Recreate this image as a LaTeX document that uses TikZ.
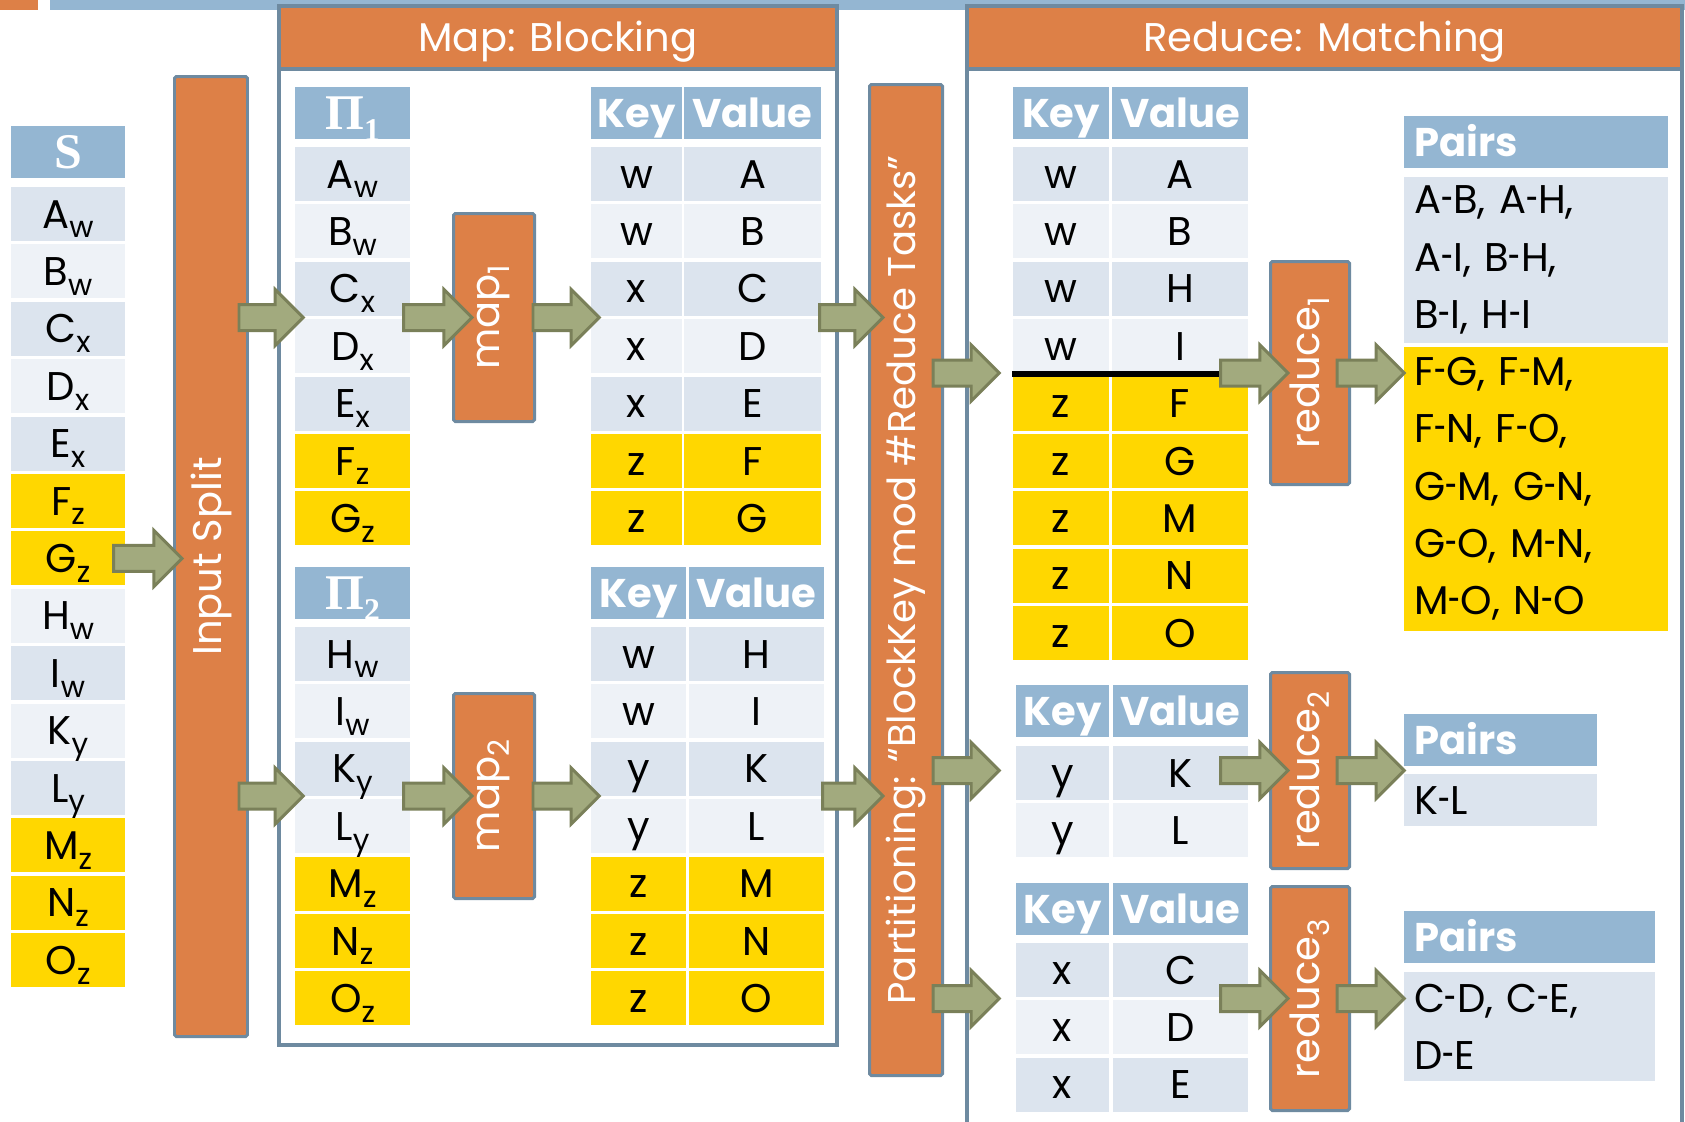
\documentclass[tikz,border=0pt]{standalone}
\usepackage{fontspec}
\setmainfont{Poppins}
\newfontfamily\serifhd{Liberation Serif}
\usetikzlibrary{calc}

\definecolor{taskorange}{HTML}{DD8047}
\definecolor{slate}{HTML}{6E8AA0}
\definecolor{hdblue}{HTML}{94B6D2}
\definecolor{rowdark}{HTML}{DCE4EE}
\definecolor{rowlight}{HTML}{EEF2F7}
\definecolor{rowyel}{HTML}{FFD700}
\definecolor{arrowfill}{HTML}{A2AA7E}
\definecolor{arrowedge}{HTML}{7A8059}

\newcommand\sbx[1]{\raisebox{-2.8pt}{\fontsize{8.4}{9}\selectfont #1}}
\newcommand\hy{\scalebox{0.55}[1]{-}}

\tikzset{
  cell/.style={inner sep=0pt, minimum height=5.4mm, text height=8pt, text depth=0pt},
  hdcell/.style={cell, minimum height=5.2mm, fill=hdblue, text=white, font=\bfseries},
  greekhd/.style={hdcell, font=\serifhd\bfseries\fontsize{14.2}{16}\selectfont, text height=9.4pt},
  pairbox/.style={inner sep=0pt, align=left},
  taskbox/.style={draw=slate, line width=0.85pt, fill=taskorange, text=white, inner sep=0pt, rounded corners=0.5pt},
  framebox/.style={draw=slate, line width=1.1pt, fill=white, inner sep=0pt},
  framehead/.style={draw=slate, line width=1.1pt, fill=taskorange, text=white, inner sep=0pt, minimum height=6.3mm, text height=8pt, text depth=0pt},
  sepline/.style={black, line width=1.8pt},
  blockarrow/.style={draw=arrowedge, fill=arrowfill, line width=0.85pt,
    to path={let \p1=(\tikztostart), \p2=(\tikztotarget) in
      (\x1,\y1-3.7pt) -- (\x2-8pt,\y1-3.7pt) -- (\x2-8pt,\y1-8pt) -- (\x2,\y1)
      -- (\x2-8pt,\y1+8pt) -- (\x2-8pt,\y1+3.7pt) -- (\x1,\y1+3.7pt) -- cycle}}
}

\begin{document}
\fontsize{11.4}{16.3}\selectfont
\begin{tikzpicture}[x=0.1mm,y=-0.1mm]
\useasboundingbox (0,0) rectangle (1685,1121);
\clip (0,0) rectangle (1685,1121);

\fill[taskorange] (0,0) rectangle (38,10);
\fill[hdblue] (50,0) rectangle (1685,10);

\node[framebox, minimum width=55.8mm, minimum height=103.9mm] (mapbox) at (558,525.5) {};
\node[framehead, minimum width=55.8mm] (maphd) at (558,37.5) {Map: Blocking};
\node[framebox, minimum width=71.5mm, minimum height=113.4mm] (redbox) at (1324.5,573) {};
\node[framehead, minimum width=71.5mm] (redhd) at (1324.5,37.5) {Reduce: Matching};

% input set
\node[greekhd, minimum width=11.4mm] (sH) at (68,152) {S};
\foreach \ch/\sb/\fc [count=\i] in {A/w/rowdark,B/w/rowlight,C/x/rowdark,D/x/rowlight,E/x/rowdark,F/z/rowyel,G/z/rowyel,H/w/rowlight,I/w/rowdark,K/y/rowlight,L/y/rowdark,M/z/rowyel,N/z/rowyel,O/z/rowyel}
  \node[cell, fill=\fc, minimum width=11.4mm] (s\i) at (68,{214+(\i-1)*57.4}) {\ch\sbx{\sb}};

\node[taskbox, minimum width=7.3mm, minimum height=96mm] (split) at (211,556.5) {\rotatebox{90}{Input Split}};

% map side
\node[greekhd, minimum width=11.5mm] (pa) at (352.5,113) {Π\raisebox{-3.2pt}{\fontsize{9}{10}\selectfont 1}};
\foreach \ch/\sb/\fc [count=\i] in {A/w/rowdark,B/w/rowlight,C/x/rowdark,D/x/rowlight,E/x/rowdark,F/z/rowyel,G/z/rowyel}
  \node[cell, fill=\fc, minimum width=11.5mm] (pa\i) at (352.5,{174+(\i-1)*57.4}) {\ch\sbx{\sb}};
\node[greekhd, minimum width=11.5mm] (pb) at (352.5,593) {Π\raisebox{-3.2pt}{\fontsize{9}{10}\selectfont 2}};
\foreach \ch/\sb/\fc [count=\i] in {H/w/rowdark,I/w/rowlight,K/y/rowdark,L/y/rowlight,M/z/rowyel,N/z/rowyel,O/z/rowyel}
  \node[cell, fill=\fc, minimum width=11.5mm] (pb\i) at (352.5,{654+(\i-1)*57.4}) {\ch\sbx{\sb}};

\node[taskbox, minimum width=8.1mm, minimum height=20.8mm] (map1) at (494,317.5) {\rotatebox{90}{map\sbx{1}}};
\node[taskbox, minimum width=8.1mm, minimum height=20.5mm] (map2) at (494,796) {\rotatebox{90}{map\sbx{2}}};

\node[hdcell, minimum width=9.1mm] (ka) at (636.5,113) {Key};
\node[hdcell, minimum width=13.7mm] (va) at (752.5,113) {Value};
\foreach \k/\v/\fc [count=\i] in {w/A/rowdark,w/B/rowlight,x/C/rowdark,x/D/rowlight,x/E/rowdark,z/F/rowyel,z/G/rowyel} {
  \node[cell, fill=\fc, minimum width=9.1mm] (ka\i) at (636.5,{174+(\i-1)*57.4}) {\k};
  \node[cell, fill=\fc, minimum width=13.7mm] (va\i) at (752.5,{174+(\i-1)*57.4}) {\v};
}
\node[hdcell, minimum width=9.5mm] (kb) at (638.5,593) {Key};
\node[hdcell, minimum width=13.5mm] (vb) at (756.5,593) {Value};
\foreach \k/\v/\fc [count=\i] in {w/H/rowdark,w/I/rowlight,y/K/rowdark,y/L/rowlight,z/M/rowyel,z/N/rowyel,z/O/rowyel} {
  \node[cell, fill=\fc, minimum width=9.5mm] (kb\i) at (638.5,{654+(\i-1)*57.4}) {\k};
  \node[cell, fill=\fc, minimum width=13.5mm] (vb\i) at (756.5,{654+(\i-1)*57.4}) {\v};
}

\node[taskbox, minimum width=7.3mm, minimum height=99.1mm, font=\fontsize{11}{13}\selectfont] (part) at (906,580) {\rotatebox{90}{Partitioning: “BlockKey mod \#Reduce Tasks”}};

% reduce side
\node[hdcell, minimum width=9.6mm] (kc) at (1061,113) {Key};
\node[hdcell, minimum width=13.6mm] (vc) at (1180,113) {Value};
\foreach \k/\v/\fc [count=\i] in {w/A/rowdark,w/B/rowlight,w/H/rowdark,w/I/rowlight,z/F/rowyel,z/G/rowyel,z/M/rowyel,z/N/rowyel,z/O/rowyel} {
  \node[cell, fill=\fc, minimum width=9.6mm] (kc\i) at (1061,{174+(\i-1)*57.4}) {\k};
  \node[cell, fill=\fc, minimum width=13.6mm] (vc\i) at (1180,{174+(\i-1)*57.4}) {\v};
}
\draw[sepline] (kc4.south west) -- (kc4.south west -| vc4.east);

\node[hdcell, minimum width=9.3mm] (kd) at (1062.5,711) {Key};
\node[hdcell, minimum width=13.5mm] (vd) at (1180.5,711) {Value};
\foreach \k/\v/\fc [count=\i] in {y/K/rowdark,y/L/rowlight} {
  \node[cell, fill=\fc, minimum width=9.3mm] (kd\i) at (1062.5,{773+(\i-1)*57.4}) {\k};
  \node[cell, fill=\fc, minimum width=13.5mm] (vd\i) at (1180.5,{773+(\i-1)*57.4}) {\v};
}
\node[hdcell, minimum width=9.3mm] (ke) at (1062.5,909) {Key};
\node[hdcell, minimum width=13.5mm] (ve) at (1180.5,909) {Value};
\foreach \k/\v/\fc [count=\i] in {x/C/rowdark,x/D/rowlight,x/E/rowdark} {
  \node[cell, fill=\fc, minimum width=9.3mm] (ke\i) at (1062.5,{970+(\i-1)*57.4}) {\k};
  \node[cell, fill=\fc, minimum width=13.5mm] (ve\i) at (1180.5,{970+(\i-1)*57.4}) {\v};
}

\node[taskbox, minimum width=7.9mm, minimum height=22.3mm] (red1) at (1310,373) {\rotatebox{90}{reduce\sbx{1}}};
\node[taskbox, minimum width=7.9mm, minimum height=19.6mm] (red2) at (1310,770.5) {\rotatebox{90}{reduce\sbx{2}}};
\node[taskbox, minimum width=7.9mm, minimum height=22.4mm] (red3) at (1310,998.5) {\rotatebox{90}{reduce\sbx{3}}};

\node[hdcell, minimum width=26.4mm, text width=24.4mm, align=left] (pc) at (1536,142) {Pairs};
\node[pairbox, fill=rowdark, minimum width=26.4mm, minimum height=16.6mm, text width=24.4mm] (pc1) at (1536,260) {A\hy B, A\hy H,\\A\hy I, B\hy H,\\B\hy I, H\hy I};
\node[pairbox, fill=rowyel, minimum width=26.4mm, minimum height=28.4mm, text width=24.4mm] (pc2) at (1536,489) {F\hy G, F\hy M,\\F\hy N, F\hy O,\\G\hy M, G\hy N,\\G\hy O, M\hy N,\\M\hy O, N\hy O};
\node[hdcell, minimum width=19.3mm, text width=17.3mm, align=left] (pd) at (1500.5,740) {Pairs};
\node[cell, fill=rowdark, minimum width=19.3mm, minimum height=5.2mm, text width=17.3mm, align=left] (pd1) at (1500.5,800) {K\hy L};
\node[hdcell, minimum width=25.1mm, text width=23.1mm, align=left] (pe) at (1529.5,937) {Pairs};
\node[pairbox, fill=rowdark, minimum width=25.1mm, minimum height=10.9mm, text width=23.1mm] (pe1) at (1529.5,1026.5) {C\hy D, C\hy E,\\D\hy E};

% flow arrows
\draw[blockarrow] ($(s7.east)+(-12,0)$) to ($(split.west)+(9,0)$);
\draw[blockarrow] ($(split.east |- map1.west)+(-10,0)$) to ($(pa.west)+(9,0)$);
\draw[blockarrow] ($(split.east |- map2.west)+(-10,0)$) to ($(pb.west)+(9,0)$);
\draw[blockarrow] ($(pa.east |- map1.west)+(-7,0)$) to ($(map1.west)+(20,0)$);
\draw[blockarrow] ($(pb.east |- map2.west)+(-7,0)$) to ($(map2.west)+(20,0)$);
\draw[blockarrow] ($(map1.east)+(-3,0)$) to ($(ka.west)+(9,0)$);
\draw[blockarrow] ($(map2.east)+(-3,0)$) to ($(kb.west)+(9,0)$);
\draw[blockarrow] ($(va.east |- map1.west)+(-2,0)$) to ($(part.west)+(15,0)$);
\draw[blockarrow] ($(vb.east |- map2.west)+(-2,0)$) to ($(part.west)+(15,0)$);
\draw[blockarrow] ($(part.east |- red1.west)+(-11,0)$) to ($(kc.west)+(-13,0)$);
\draw[blockarrow] ($(part.east |- red2.west)+(-11,0)$) to ($(kd.west)+(-16,0)$);
\draw[blockarrow] ($(part.east |- red3.west)+(-11,0)$) to ($(ke.west)+(-16,0)$);
\draw[blockarrow] ($(vc.east |- red1.west)+(-28,0)$) to ($(red1.west)+(19,0)$);
\draw[blockarrow] ($(vd.east |- red2.west)+(-28,0)$) to ($(red2.west)+(19,0)$);
\draw[blockarrow] ($(ve.east |- red3.west)+(-28,0)$) to ($(red3.west)+(19,0)$);
\draw[blockarrow] ($(red1.east)+(-14,0)$) to ($(pc.west)+(1,0)$);
\draw[blockarrow] ($(red2.east)+(-14,0)$) to ($(pd.west)+(1,0)$);
\draw[blockarrow] ($(red3.east)+(-14,0)$) to ($(pe.west)+(1,0)$);
\end{tikzpicture}
\end{document}
